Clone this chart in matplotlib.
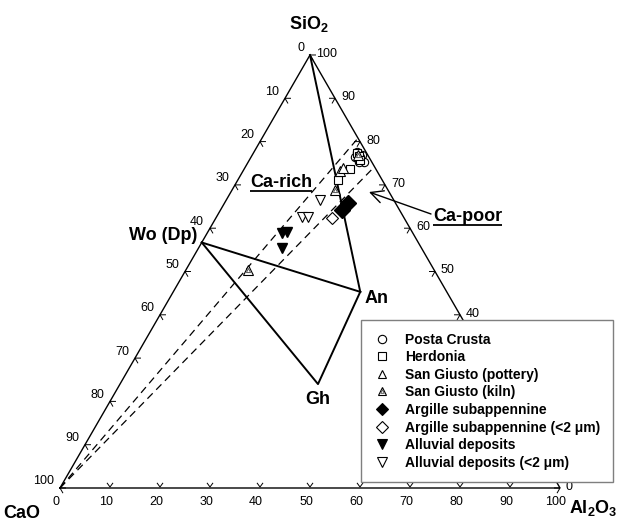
import numpy as np
import matplotlib
matplotlib.use('Agg')
import matplotlib.pyplot as plt
from matplotlib.lines import Line2D
from matplotlib.legend_handler import HandlerTuple

plt.rcParams['font.family'] = ['Liberation Sans', 'DejaVu Sans']
plt.rcParams['mathtext.fontset'] = 'custom'
plt.rcParams['mathtext.rm'] = 'Liberation Sans'
plt.rcParams['mathtext.bf'] = 'Liberation Sans:bold'

# ---- data: compositions in wt% (SiO2, Al2O3, CaO) ----
posta_sio2 = [77.7, 76.9, 75.4, 75.4, 76.5, 76.5]
posta_al2o3 = [20.5, 21.9, 23.0, 22.0, 21.7, 20.7]
posta_cao = [1.8, 1.2, 1.6, 2.6, 1.8, 2.8]

herd_sio2 = [77.3, 76.7, 75.8, 73.6, 71.1]
herd_al2o3 = [20.8, 21.5, 22.1, 21.2, 20.1]
herd_cao = [1.9, 1.8, 2.1, 5.2, 8.8]

sgp_sio2 = [73.2, 73.9]
sgp_al2o3 = [19.4, 19.7]
sgp_cao = [7.4, 6.4]

sgk_sio2 = [68.8, 50.3, 76.9]
sgk_al2o3 = [20.6, 12.5, 21.2]
sgk_cao = [10.6, 37.2, 1.9]

arg_sio2 = [65.8, 64.2]
arg_al2o3 = [24.7, 24.2]
arg_cao = [9.5, 11.6]

argf_sio2 = [62.3]
argf_al2o3 = [23.2]
argf_cao = [14.5]

all_sio2 = [58.8, 59.2, 55.4]
all_al2o3 = [14.9, 15.7, 16.7]
all_cao = [26.3, 25.1, 27.9]

allf_sio2 = [66.5, 62.7, 62.7]
allf_al2o3 = [18.7, 17.0, 18.3]
allf_cao = [14.8, 20.3, 19.0]

# mineral phases: Wo (Dp), An, Gh
phase_names = ['Wo (Dp)', 'An', 'Gh']
phase_sio2 = [56.7, 45.3, 24.0]
phase_al2o3 = [0.0, 37.4, 39.6]
phase_cao = [43.3, 17.3, 36.4]

# Ca-rich mixing band: from CaO apex to Ca-poor end members on SiO2-Al2O3 join
band_sio2 = [80.8, 74.2]
band_al2o3 = [19.2, 25.8]

ticks = list(range(0, 101, 10))
# SiO2 labels visible on the right side (10-30 lie under the legend)
right_labels = [0, 40, 50, 60, 70, 80, 90, 100]

R3 = np.sqrt(3) / 2


def tern(s, a, c):
    s = np.asarray(s, float)
    a = np.asarray(a, float)
    c = np.asarray(c, float)
    t = s + a + c
    s, a = s / t, a / t
    return a + s / 2, s * R3


fig = plt.figure(figsize=(6.19, 5.2), dpi=100)
ax = fig.add_axes([0, 0, 1, 1])
ax.set_xlim(-0.12, 1.118)
ax.set_ylim(-0.064, 0.976)
ax.axis('off')

# triangle frame
fx, fy = tern([0, 0, 100, 0], [0, 100, 0, 0], [100, 0, 0, 100])
ax.plot(fx, fy, color='black', lw=1.0, solid_joinstyle='miter')

# tick chevrons
L = 0.011
for v in ticks:
    # bottom (Al2O3)
    if 0 < v < 100:
        x, y = tern(0, v, 100 - v)
        ax.plot([x - 0.5 * L, x, x + 0.5 * L], [y + R3 * L, y + 0.002, y + R3 * L], color='black', lw=0.7)
    # left (CaO)
    x, y = tern(100 - v, 0, v)
    ax.plot([x + L, x, x + 0.5 * L], [y, y, y - R3 * L], color='black', lw=0.7)
    # right (SiO2)
    if v < 100:
        x, y = tern(v, 100 - v, 0)
        ax.plot([x - L, x, x - 0.5 * L], [y, y, y - R3 * L], color='black', lw=0.7)

# tick labels
for v in ticks:
    x, y = tern(0, v, 100 - v)
    ax.text(x - 0.008, y - 0.028, str(v), ha='center', va='center', fontsize=9)
    x, y = tern(100 - v, 0, v)
    ax.text(x - 0.012, y + 0.013, str(v), ha='right', va='center', fontsize=9)
for v in right_labels:
    x, y = tern(v, 100 - v, 0)
    ax.text(x + 0.012, y + 0.002, str(v), ha='left', va='center', fontsize=9)

# phase lines
wx, wy = tern(phase_sio2[0], phase_al2o3[0], phase_cao[0])
anx, any_ = tern(phase_sio2[1], phase_al2o3[1], phase_cao[1])
gx, gy = tern(phase_sio2[2], phase_al2o3[2], phase_cao[2])
tx, ty = tern(100, 0, 0)
ax.plot([wx, anx], [wy, any_], color='black', lw=1.4)
ax.plot([wx, gx, anx], [wy, gy, any_], color='black', lw=1.4)
ax.plot([tx, anx], [ty, any_], color='black', lw=1.4)

# dashed band
cx, cy = tern(0, 0, 100)
for s, a in zip(band_sio2, band_al2o3):
    ex, ey = tern(s, a, 0)
    ax.plot([cx, ex], [cy, ey], color='black', lw=0.9, dashes=(6, 4))

# data markers
def pts(s, a, c, **kw):
    x, y = tern(s, a, c)
    ax.plot(x, y, ls='none', **kw)

pts(posta_sio2, posta_al2o3, posta_cao, marker='o', ms=6, mfc='white', mec='black', mew=0.8)
pts(herd_sio2, herd_al2o3, herd_cao, marker='s', ms=5.5, mfc='white', mec='black', mew=0.8)
pts(sgp_sio2, sgp_al2o3, sgp_cao, marker='^', ms=6.5, mfc='white', mec='black', mew=0.8)
pts(sgk_sio2, sgk_al2o3, sgk_cao, marker='^', ms=6.5, mfc='white', mec='black', mew=0.8)
pts(sgk_sio2, sgk_al2o3, sgk_cao, marker='^', ms=3, mfc='none', mec='#555555', mew=0.7)
pts(arg_sio2, arg_al2o3, arg_cao, marker='D', ms=8, mfc='black', mec='black')
pts(argf_sio2, argf_al2o3, argf_cao, marker='D', ms=6.5, mfc='white', mec='black', mew=0.8)
pts(all_sio2, all_al2o3, all_cao, marker='v', ms=7, mfc='black', mec='black')
pts(allf_sio2, allf_al2o3, allf_cao, marker='v', ms=7, mfc='white', mec='black', mew=0.8)

# labels
ax.text(0.498, 0.928, r'$\mathbf{SiO_2}$', ha='center', va='center', fontsize=13)
ax.text(-0.076, -0.05, 'CaO', ha='center', va='center', fontsize=13, fontweight='bold')
ax.text(1.018, -0.04, r'$\mathbf{Al_2O_3}$', ha='left', va='center', fontsize=13)
ax.annotate(phase_names[0], (wx, wy), xytext=(-3, 5), textcoords='offset points',
            ha='right', va='center', fontsize=13, fontweight='bold')
ax.annotate(phase_names[1], (anx, any_), xytext=(3, -5), textcoords='offset points',
            ha='left', va='center', fontsize=13, fontweight='bold')
ax.annotate(phase_names[2], (gx, gy), xytext=(0, -11), textcoords='offset points',
            ha='center', va='center', fontsize=13, fontweight='bold')

t_rich = ax.text(0.38, 0.602, 'Ca-rich', ha='left', va='baseline', fontsize=13, fontweight='bold')
t_poor = ax.text(0.746, 0.534, 'Ca-poor', ha='left', va='baseline', fontsize=13, fontweight='bold')

ax.annotate('', xy=(0.618, 0.592), xytext=(0.742, 0.548),
            arrowprops=dict(arrowstyle='->,head_length=0.9,head_width=0.45', color='black', lw=1.0,
                            shrinkA=0, shrinkB=0))

# legend
leg_labels = ['Posta Crusta', 'Herdonia', 'San Giusto (pottery)', 'San Giusto (kiln)',
              'Argille subappennine', 'Argille subappennine (<2 \u03bcm)', 'Alluvial deposits',
              'Alluvial deposits (<2 \u03bcm)']
kw = dict(ls='none', mec='black', mew=0.8)
handles = [
    Line2D([], [], marker='o', ms=6, mfc='white', **kw),
    Line2D([], [], marker='s', ms=5.5, mfc='white', **kw),
    Line2D([], [], marker='^', ms=6, mfc='white', **kw),
    (Line2D([], [], marker='^', ms=6, mfc='white', **kw),
     Line2D([], [], ls='none', marker='^', ms=2.6, mfc='none', mec='#555555', mew=0.7)),
    Line2D([], [], marker='D', ms=6, mfc='black', **kw),
    Line2D([], [], marker='D', ms=6, mfc='white', **kw),
    Line2D([], [], marker='v', ms=6.5, mfc='black', **kw),
    Line2D([], [], marker='v', ms=6.5, mfc='white', **kw),
]
leg = ax.legend(handles, leg_labels, handler_map={tuple: HandlerTuple(ndivide=1, pad=0)},
                loc='upper left', bbox_to_anchor=(361 / 619, 1 - 320 / 520),
                bbox_transform=fig.transFigure, borderaxespad=0, frameon=True, fancybox=False,
                edgecolor='#7f7f7f', framealpha=1, prop={'weight': 'bold', 'size': 10},
                handlelength=1.2, handletextpad=1.1, labelspacing=0.26, borderpad=0.9)
leg.get_frame().set_linewidth(1.0)

# underline the Ca-rich / Ca-poor labels
fig.canvas.draw()
r = fig.canvas.get_renderer()
inv = ax.transData.inverted()
for t in (t_rich, t_poor):
    bb = t.get_window_extent(r)
    (x0, y0), (x1, y1) = inv.transform([(bb.x0, bb.y0), (bb.x1, bb.y0)])
    ax.plot([x0, x1], [y0, y0], color='black', lw=1.3, solid_capstyle='butt')

fig.savefig('out.png', dpi=100)
